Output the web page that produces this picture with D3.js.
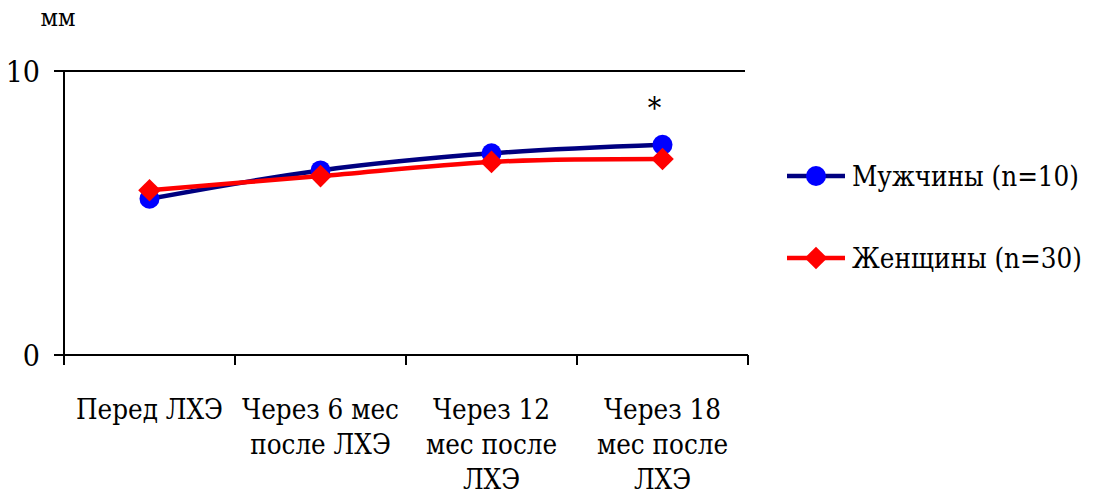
<!DOCTYPE html>
<html>
<head>
<meta charset="utf-8">
<script src="https://cdn.jsdelivr.net/npm/d3@7"></script>
<style>
  html, body { margin: 0; padding: 0; background: #fff; }
  svg { display: block; }
</style>
</head>
<body>
<svg id="chart" width="1097" height="497"></svg>
<script>
// Time points after laparoscopic cholecystectomy
const categories = ["Перед ЛХЭ", "Через 6 мес после ЛХЭ", "Через 12 мес после ЛХЭ", "Через 18 мес после ЛХЭ"];
const categoryLines = [
  ["Перед ЛХЭ"],
  ["Через 6 мес", "после ЛХЭ"],
  ["Через 12", "мес после", "ЛХЭ"],
  ["Через 18", "мес после", "ЛХЭ"]
];
const menValues = [5.5, 6.5, 7.1, 7.4];
const womenValues = [5.8, 6.3, 6.8, 6.9];
const seriesNames = ["Мужчины (n=10)", "Женщины (n=30)"];
const yTicks = [0, 10];
const yUnit = "мм";
const significanceMark = "*";

const FONT = "DejaVu Serif Condensed";

const svg = d3.select("#chart");
const plot = { left: 64, right: 748, top: 71, bottom: 355 };

const x = d3.scaleBand().domain(categories).range([plot.left, plot.right]);
const y = d3.scaleLinear().domain([0, 10]).range([plot.bottom, plot.top]);
const cx = c => x(c) + x.bandwidth() / 2;

function label(sel) {
  return sel.attr("font-family", FONT).attr("fill", "#000");
}

// Top gridline at max value
svg.append("line")
  .attr("x1", plot.left).attr("x2", plot.right - 3)
  .attr("y1", y(10)).attr("y2", y(10))
  .attr("stroke", "#000").attr("stroke-width", 2);

// Y axis
svg.append("line")
  .attr("x1", plot.left).attr("x2", plot.left)
  .attr("y1", y(10)).attr("y2", y(0))
  .attr("stroke", "#000").attr("stroke-width", 2);
yTicks.forEach(t => {
  svg.append("line")
    .attr("x1", plot.left - 10).attr("x2", plot.left)
    .attr("y1", y(t)).attr("y2", y(t))
    .attr("stroke", "#000").attr("stroke-width", 2);
  svg.append("text").call(label)
    .attr("x", plot.left - 24).attr("y", y(t) + 11)
    .attr("text-anchor", "end")
    .attr("font-size", 30)
    .text(t);
});
svg.append("text").call(label)
  .attr("x", 58).attr("y", 26)
  .attr("text-anchor", "middle")
  .attr("font-size", 25)
  .text(yUnit);

// X axis
svg.append("line")
  .attr("x1", plot.left).attr("x2", plot.right)
  .attr("y1", y(0)).attr("y2", y(0))
  .attr("stroke", "#000").attr("stroke-width", 2);
const tickPositions = categories.map(c => x(c)).concat([x(categories[categories.length - 1]) + x.bandwidth()]);
tickPositions.forEach(p => {
  svg.append("line")
    .attr("x1", p).attr("x2", p)
    .attr("y1", y(0)).attr("y2", y(0) + 10)
    .attr("stroke", "#000").attr("stroke-width", 2);
});
categories.forEach((c, i) => {
  const t = svg.append("text").call(label)
    .attr("text-anchor", "middle")
    .attr("font-size", 27.5)
    .attr("y", 419);
  categoryLines[i].forEach((ln, j) => {
    t.append("tspan").attr("x", cx(c)).attr("dy", j === 0 ? 0 : 35).text(ln);
  });
});

// Series lines
const line = d3.line()
  .x((d, i) => cx(categories[i]))
  .y(d => y(d))
  .curve(d3.curveCatmullRom.alpha(0.5));

svg.append("path").datum(menValues)
  .attr("d", line).attr("fill", "none")
  .attr("stroke", "#000080").attr("stroke-width", 4.5);
svg.append("path").datum(womenValues)
  .attr("d", line).attr("fill", "none")
  .attr("stroke", "#ff0000").attr("stroke-width", 4.5);

svg.selectAll(".men-pt").data(menValues).join("circle")
  .attr("cx", (d, i) => cx(categories[i]))
  .attr("cy", d => y(d))
  .attr("r", 10)
  .attr("fill", "#0000ff");

svg.selectAll(".women-pt").data(womenValues).join("rect")
  .attr("width", 16).attr("height", 16)
  .attr("x", -8).attr("y", -8)
  .attr("transform", (d, i) => `translate(${cx(categories[i])},${y(d)}) rotate(45)`)
  .attr("fill", "#ff0000");

// Significance mark above the last male point
svg.append("text").call(label)
  .attr("x", cx(categories[3]) - 8).attr("y", y(menValues[3]) - 27)
  .attr("text-anchor", "middle")
  .attr("font-size", 30)
  .text(significanceMark);

// Legend
const legend = [
  { name: seriesNames[0], stroke: "#000080", fill: "#0000ff", shape: "circle", y: 176 },
  { name: seriesNames[1], stroke: "#ff0000", fill: "#ff0000", shape: "diamond", y: 258 }
];
legend.forEach(l => {
  svg.append("line")
    .attr("x1", 787).attr("x2", 845)
    .attr("y1", l.y).attr("y2", l.y)
    .attr("stroke", l.stroke).attr("stroke-width", 4.5);
  if (l.shape === "circle") {
    svg.append("circle").attr("cx", 816).attr("cy", l.y).attr("r", 10).attr("fill", l.fill);
  } else {
    svg.append("rect")
      .attr("width", 16).attr("height", 16).attr("x", -8).attr("y", -8)
      .attr("transform", `translate(816,${l.y}) rotate(45)`)
      .attr("fill", l.fill);
  }
  svg.append("text").call(label)
    .attr("x", 852).attr("y", l.y + 10)
    .attr("font-size", 27.5)
    .text(l.name);
});
</script>
</body>
</html>
